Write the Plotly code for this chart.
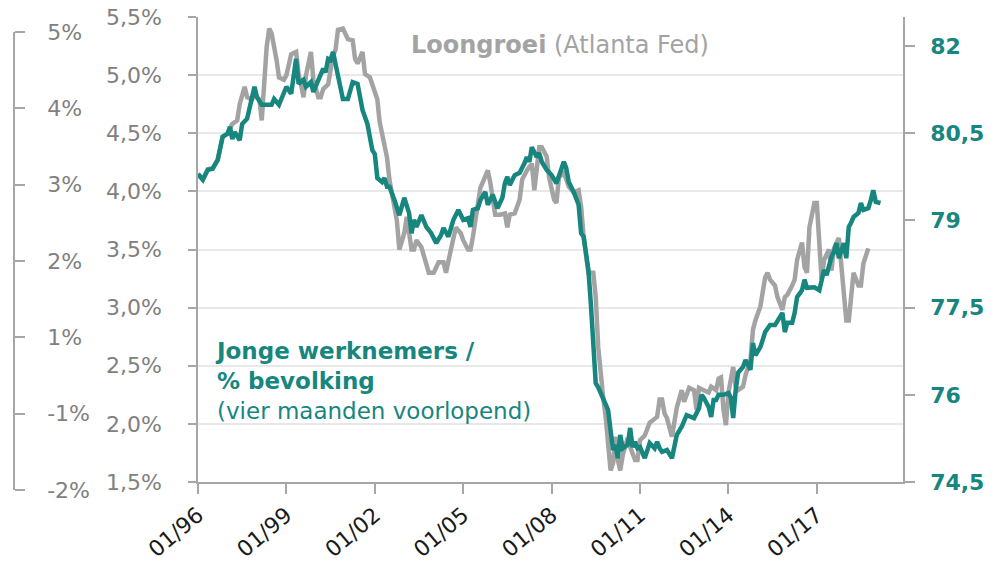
import plotly.graph_objects as go

# Young workers / population (right axis), shifted four months ahead
teal_dates = ["1996-01","1996-03","1996-05","1996-07","1996-09","1996-11","1997-01","1997-02","1997-03","1997-04",
"1997-06","1997-07","1997-09","1997-11","1997-12","1998-01","1998-03","1998-07","1998-08","1998-10",
"1998-12","1999-01","1999-03","1999-05","1999-06","1999-08","1999-09","1999-11","1999-12","2000-02",
"2000-04","2000-05","2000-06","2000-07","2000-08","2000-09","2000-10","2000-12","2001-02","2001-04",
"2001-06","2001-08","2001-10","2001-12","2002-01","2002-02","2002-04","2002-05","2002-06","2002-07",
"2002-09","2002-11","2003-01","2003-03","2003-04","2003-05","2003-06","2003-08","2003-10","2003-12",
"2004-02","2004-04","2004-05","2004-07","2004-09","2004-11","2005-01","2005-03","2005-04","2005-05",
"2005-07","2005-08","2005-10","2005-11","2006-01","2006-03","2006-05","2006-06","2006-07","2006-08",
"2006-10","2006-12","2007-02","2007-03","2007-04","2007-05","2007-07","2007-08","2007-09","2007-11",
"2008-01","2008-03","2008-06","2008-07","2008-08","2008-10","2008-12","2009-01","2009-02","2009-04",
"2009-05","2009-06","2009-07","2009-08","2009-10","2009-12","2010-01","2010-02","2010-03","2010-04",
"2010-05","2010-06","2010-08","2010-09","2010-10","2010-11","2010-12","2011-01","2011-03","2011-05",
"2011-07","2011-08","2011-09","2011-10","2011-12","2012-01","2012-02","2012-04","2012-06","2012-08",
"2012-10","2012-11","2013-01","2013-02","2013-03","2013-05","2013-06","2013-07","2013-08","2013-09",
"2013-11","2014-01","2014-02","2014-03","2014-04","2014-05","2014-07","2014-08","2014-10","2014-11",
"2014-12","2015-02","2015-03","2015-04","2015-06","2015-08","2015-11","2015-12","2016-01","2016-03",
"2016-04","2016-05","2016-07","2016-08","2016-09","2016-11","2016-12","2017-02","2017-03","2017-04",
"2017-05","2017-06","2017-07","2017-08","2017-09","2017-10","2017-12","2018-01","2018-02","2018-03",
"2018-04","2018-06","2018-07","2018-08","2018-10","2018-11","2018-12","2019-01","2019-03"]
teal_values = [79.80,79.70,79.87,79.89,80.04,80.44,80.49,80.61,80.40,80.52,
80.38,80.66,80.75,81.07,81.30,81.12,80.99,80.99,81.09,80.99,
81.18,81.30,81.18,81.78,81.35,81.42,81.30,81.38,81.21,81.43,
81.61,81.55,81.78,81.76,81.90,81.69,81.47,81.09,81.09,81.38,
81.35,80.90,80.66,80.21,80.14,79.73,79.66,79.73,79.58,79.58,
79.35,79.09,79.39,79.13,78.78,79.01,78.89,79.09,78.89,78.78,
78.61,78.75,78.87,78.72,79.01,79.18,79.01,79.04,78.89,79.18,
79.21,79.35,79.49,79.27,79.44,79.21,79.39,79.64,79.75,79.61,
79.78,79.82,79.99,80.09,80.01,80.26,80.09,80.16,80.01,79.87,
79.78,79.64,80.01,79.90,79.66,79.49,79.27,78.78,78.72,78.15,
77.58,76.89,76.20,76.13,75.91,75.74,75.39,75.05,75.14,74.91,
75.31,75.08,75.14,75.43,75.10,75.19,75.08,75.10,74.91,75.17,
75.08,75.19,75.08,75.02,75.05,74.96,74.91,75.31,75.45,75.65,
75.62,75.60,75.77,76.00,75.95,75.79,75.62,75.91,75.91,76.00,
76.00,76.03,75.95,75.60,76.08,76.38,76.48,76.60,76.43,76.89,
76.68,76.82,76.94,77.08,77.20,77.20,77.41,77.08,77.24,77.24,
77.41,77.68,77.80,77.98,77.84,77.85,77.85,77.80,77.98,78.15,
78.06,78.23,78.37,78.46,78.61,78.35,78.61,78.35,78.89,78.96,
79.06,79.13,79.30,79.18,79.21,79.35,79.52,79.32,79.30]

# Wage growth, Atlanta Fed (left axis, %)
gray_dates = ["1996-01","1996-03","1996-05","1996-07","1996-09","1996-11","1997-01","1997-03","1997-05","1997-06",
"1997-08","1997-09","1997-11","1997-12","1998-02","1998-03","1998-05","1998-06","1998-07","1998-08",
"1998-09","1998-10","1998-12","1999-01","1999-03","1999-05","1999-06","1999-07","1999-08","1999-09",
"1999-11","1999-12","2000-02","2000-03","2000-04","2000-06","2000-08","2000-09","2000-10","2000-12",
"2001-02","2001-04","2001-05","2001-06","2001-08","2001-09","2001-11","2001-12","2002-02","2002-03",
"2002-05","2002-06","2002-07","2002-08","2002-10","2002-11","2003-01","2003-02","2003-03","2003-04",
"2003-05","2003-06","2003-08","2003-09","2003-11","2004-01","2004-03","2004-05","2004-06","2004-08",
"2004-10","2004-12","2005-01","2005-03","2005-04","2005-05","2005-07","2005-08","2005-09","2005-11",
"2005-12","2006-01","2006-02","2006-04","2006-06","2006-07","2006-08","2006-10","2006-12","2007-01",
"2007-03","2007-05","2007-06","2007-08","2007-09","2007-11","2007-12","2008-02","2008-03","2008-04",
"2008-06","2008-08","2008-10","2008-12","2009-01","2009-02","2009-04","2009-06","2009-07","2009-08",
"2009-09","2009-10","2009-11","2009-12","2010-01","2010-02","2010-03","2010-04","2010-05","2010-06",
"2010-08","2010-09","2010-11","2010-12","2011-01","2011-03","2011-05","2011-08","2011-09","2011-10",
"2011-11","2011-12","2012-02","2012-03","2012-04","2012-06","2012-07","2012-09","2012-11","2012-12",
"2013-01","2013-03","2013-05","2013-06","2013-08","2013-09","2013-10","2013-11","2013-12","2014-01",
"2014-03","2014-04","2014-05","2014-07","2014-08","2014-10","2014-11","2014-12","2015-02","2015-04",
"2015-05","2015-06","2015-08","2015-09","2015-11","2015-12","2016-01","2016-03","2016-04","2016-05",
"2016-07","2016-08","2016-09","2016-10","2016-12","2017-01","2017-02","2017-03","2017-04","2017-06",
"2017-07","2017-08","2017-10","2017-11","2017-12","2018-01","2018-02","2018-03","2018-04","2018-06",
"2018-07","2018-08","2018-10"]
gray_values = [4.15,4.10,4.19,4.20,4.27,4.47,4.50,4.58,4.61,4.75,
4.90,4.81,4.79,4.83,4.79,4.61,5.24,5.40,5.36,5.26,
5.13,4.98,4.96,5.00,5.18,5.20,5.01,4.92,4.81,5.00,
5.20,4.96,4.81,4.81,4.88,4.92,5.17,5.22,5.39,5.40,
5.31,5.30,5.14,5.10,5.20,5.01,4.98,4.92,4.79,4.60,
4.38,4.29,4.10,3.97,3.75,3.50,3.64,3.78,3.67,3.50,
3.50,3.58,3.52,3.44,3.30,3.30,3.39,3.39,3.30,3.50,
3.69,3.64,3.58,3.50,3.50,3.61,3.93,4.03,4.08,4.18,
4.08,3.95,3.80,3.80,3.81,3.69,3.80,3.81,3.93,4.10,
4.18,4.24,4.01,4.38,4.38,4.30,4.12,3.93,3.90,4.12,
4.16,4.04,3.99,4.01,3.87,3.61,3.30,3.30,3.09,2.66,
2.38,2.23,2.06,1.78,1.60,1.66,1.89,1.69,1.60,1.73,
1.88,1.80,1.69,1.69,1.86,1.90,2.01,2.06,2.21,2.21,
2.09,2.05,1.89,2.01,2.14,2.29,2.19,2.31,2.29,2.12,
2.31,2.29,2.27,2.32,2.29,2.39,2.40,2.12,1.99,2.27,
2.49,2.32,2.29,2.32,2.42,2.55,2.81,2.89,3.01,3.26,
3.30,3.24,3.19,3.09,2.98,3.09,3.11,3.19,3.24,3.41,
3.56,3.35,3.30,3.69,3.90,3.90,3.52,3.24,3.41,3.50,
3.32,3.51,3.60,3.35,3.13,2.89,2.89,3.13,3.30,3.19,
3.19,3.38,3.51]

x_tick_vals = ["1996-01-01","1999-01-01","2002-01-01","2005-01-01","2008-01-01","2011-01-01","2014-01-01","2017-01-01"]
x_tick_text = ["01/96","01/99","01/02","01/05","01/08","01/11","01/14","01/17"]
left_tick_vals = [1.5,2.0,2.5,3.0,3.5,4.0,4.5,5.0,5.5]
left_tick_text = ["1,5%","2,0%","2,5%","3,0%","3,5%","4,0%","4,5%","5,0%","5,5%"]
right_tick_vals = [74.5,76,77.5,79,80.5,82]
right_tick_text = ["74,5","76","77,5","79","80,5","82"]
outer_tick_vals = [0,1,2,3,4,5,6]
outer_tick_text = ["-2%","-1%","1%","2%","3%","4%","5%"]

TEAL = "#16867f"
GRAY = "#a3a3a3"
LABEL_GRAY = "#808080"
AXIS_GRAY = "#a6a6a6"
FONT = "DejaVu Sans"
W, H = 996, 582
OFF = 8  # page body margin


def px_x(x):
    return (x - OFF) / W


def px_y(y):
    return 1 - (y - OFF) / H


fig = go.Figure()
fig.add_trace(go.Scatter(x=gray_dates, y=gray_values, mode="lines",
                         line=dict(color=GRAY, width=4.5), xaxis="x", yaxis="y", showlegend=False))
fig.add_trace(go.Scatter(x=teal_dates, y=teal_values, mode="lines",
                         line=dict(color=TEAL, width=4.5), xaxis="x", yaxis="y2", showlegend=False))
# carrier for the cut-off outer axis on the far left
fig.add_trace(go.Scatter(x=[None], y=[None], xaxis="x3", yaxis="y3", showlegend=False, hoverinfo="skip"))

common_tick = dict(ticks="outside", tickcolor=AXIS_GRAY, tickwidth=1.5,
                   showline=True, linecolor=AXIS_GRAY, linewidth=1.5,
                   zeroline=False, automargin=False, ticklabeloverflow="allow")

fig.update_layout(
    width=W, height=H,
    margin=dict(l=0, r=0, t=0, b=0, pad=0),
    paper_bgcolor="white", plot_bgcolor="rgba(0,0,0,0)",
    font=dict(family=FONT, size=22, color=LABEL_GRAY),
    xaxis=dict(type="date", range=["1996-01-01", "2019-12-05"], domain=[px_x(198), px_x(903)],
               anchor="y", tickvals=x_tick_vals, ticktext=x_tick_text, tickangle=-40,
               tickfont=dict(color="#1a1a1a", size=22), ticklen=10,
               showgrid=False, **common_tick),
    yaxis=dict(range=[1.5, 5.5], domain=[px_y(482), px_y(17)], anchor="x",
               tickvals=left_tick_vals, ticktext=left_tick_text,
               tickfont=dict(color=LABEL_GRAY, size=22), ticklen=8,
               ticklabelstandoff=22,
               showgrid=True, gridcolor="#e8e8e8", gridwidth=1.5, **common_tick),
    yaxis2=dict(range=[74.5, 82.5], overlaying="y", side="right", anchor="x",
                tickvals=right_tick_vals, ticktext=right_tick_text,
                tickfont=dict(color=TEAL, size=22, weight="bold"), ticklen=10,
                ticklabelstandoff=11,
                showgrid=False, **common_tick),
    xaxis3=dict(domain=[0, px_x(13)], anchor="y3", visible=False, range=[0, 1]),
    yaxis3=dict(domain=[px_y(490), px_y(32)], anchor="x3", side="right",
                range=[0, 6], tickvals=outer_tick_vals, ticktext=outer_tick_text,
                tickfont=dict(color=LABEL_GRAY, size=22), ticklen=10,
                ticklabelstandoff=18, showgrid=False, **common_tick),
    annotations=[
        dict(xref="paper", yref="paper", x=px_x(560), y=px_y(45),
             text="<b>Loongroei</b> (Atlanta Fed)", showarrow=False,
             font=dict(family=FONT, size=24, color=GRAY), xanchor="center", yanchor="middle"),
        dict(xref="paper", yref="paper", x=px_x(213), y=px_y(381),
             text="<b>Jonge werknemers /</b><br><b>% bevolking</b><br>(vier maanden voorlopend)",
             showarrow=False, align="left",
             font=dict(family=FONT, size=23, color=TEAL), xanchor="left", yanchor="middle"),
    ],
)

fig.write_html("out.html")
